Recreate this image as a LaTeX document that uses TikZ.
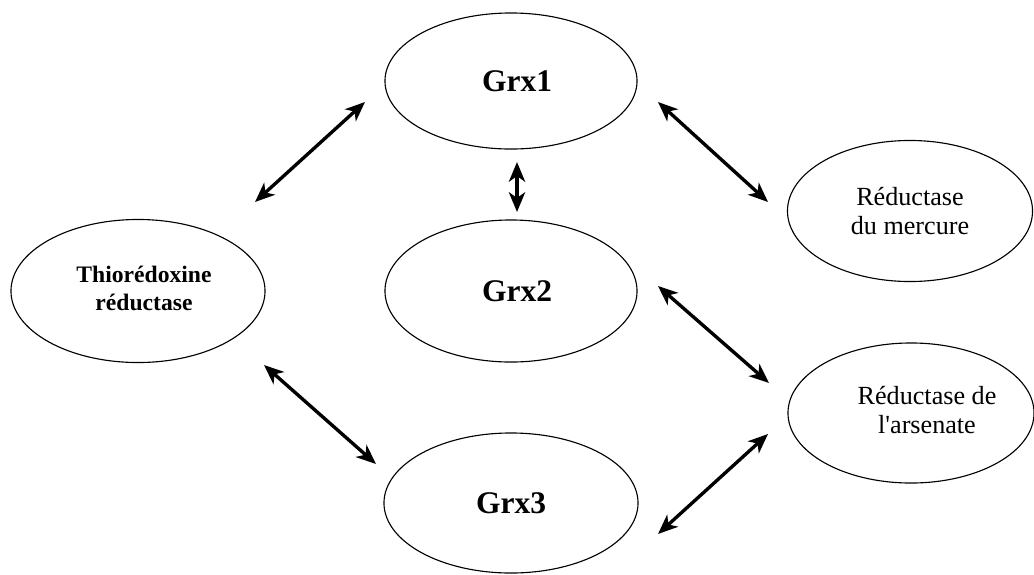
\documentclass[tikz,border=0pt]{standalone}
\usepackage{fontspec}
\setmainfont{Liberation Serif}
\usetikzlibrary{shapes.geometric, arrows.meta}

\begin{document}
\begin{tikzpicture}[x=0.025cm, y=-0.025cm,
    enzyme/.style={draw, ellipse, line width=0.8pt, inner sep=0pt, align=center},
    bigbold/.style={font=\fontsize{22.4}{26}\selectfont\bfseries},
    smallbold/.style={font=\fontsize{16.8}{20}\selectfont\bfseries},
    plain/.style={font=\fontsize{18.6}{21}\selectfont},
    link/.style={{Stealth[length=14pt, width=11.5pt, inset=4pt]}-{Stealth[length=14pt, width=11.5pt, inset=4pt]}, line width=2.4pt}]
  \useasboundingbox (0,0) rectangle (1034,574);
  \node[enzyme, bigbold, minimum width=6.3cm, minimum height=3.4cm] (grx1) at (511,81) {\hspace*{0.3cm}Grx1};
  \node[enzyme, bigbold, minimum width=6.3cm, minimum height=3.55cm] (grx2) at (511,291) {\hspace*{0.3cm}Grx2};
  \node[enzyme, bigbold, minimum width=6.35cm, minimum height=3.5cm] (grx3) at (511,503) {Grx3};
  \node[enzyme, smallbold, minimum width=6.35cm, minimum height=3.575cm] (thio) at (138,291) {\hspace*{0.3cm}\begin{tabular}{@{}c@{}}Thiorédoxine\\réductase\end{tabular}};
  \node[enzyme, plain, minimum width=6.125cm, minimum height=3.525cm] (mercure) at (910,211) {Réductase\\du mercure};
  \node[enzyme, plain, minimum width=6.15cm, minimum height=3.5cm] (arsenate) at (911,413) {\hspace*{0.8cm}\begin{tabular}{@{}c@{}}Réductase de\\l\textquotesingle arsenate\end{tabular}};
  \coordinate (thioA) at (255,202);
  \coordinate (grx1A) at (365,102);
  \coordinate (grx1B) at (517,162);
  \coordinate (grx2B) at (517,212);
  \coordinate (grx1C) at (658,102);
  \coordinate (mercureC) at (768,202);
  \coordinate (grx2D) at (658,286);
  \coordinate (arsenateD) at (769,383);
  \coordinate (thioE) at (264,365);
  \coordinate (grx3E) at (376,464);
  \coordinate (grx3F) at (658,534);
  \coordinate (arsenateF) at (768,434);
  \draw[link] (thioA) -- (grx1A);
  \draw[link] (grx1B) -- (grx2B);
  \draw[link] (grx1C) -- (mercureC);
  \draw[link] (grx2D) -- (arsenateD);
  \draw[link] (thioE) -- (grx3E);
  \draw[link] (grx3F) -- (arsenateF);
\end{tikzpicture}
\end{document}
